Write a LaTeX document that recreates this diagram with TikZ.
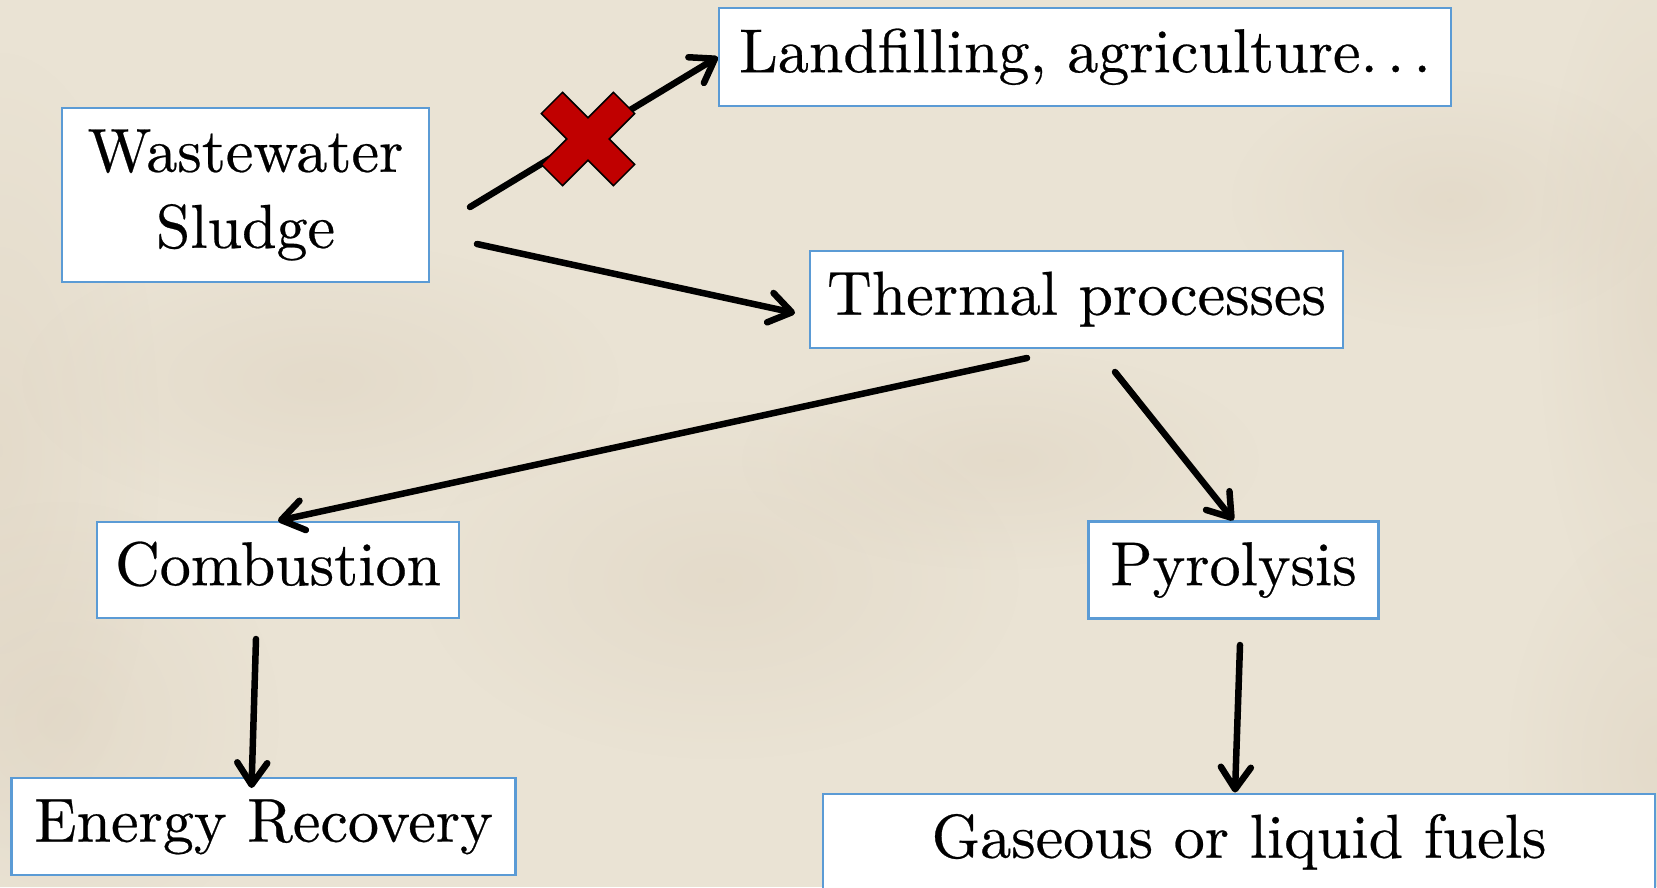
\documentclass[tikz,border=0pt]{standalone}
\usepackage{fontspec}
\setmainfont{lmroman10-regular.otf}[FakeBold=0.4]
\usetikzlibrary{arrows.meta,fadings}
\tikzfading[name=softblob, inner color=transparent!40, outer color=transparent!100]
\definecolor{paper}{RGB}{234,227,212}
\definecolor{paperdark}{RGB}{205,188,166}
\definecolor{boxblue}{RGB}{91,155,213}
\definecolor{xred}{RGB}{192,0,0}
\begin{document}
\begin{tikzpicture}[x=1pt,y=-1pt,
  box/.style={draw=boxblue,line width=2.5pt,fill=white,inner sep=0pt,align=center,
    font=\fontsize{62}{76}\selectfont},
  flow/.style={line width=6.5pt,line cap=round,-{Straight Barb[length=22pt,width=30pt,round]}},
  blot/.style={fill=paperdark,path fading=softblob,opacity=0.35}]
\useasboundingbox (0,0) rectangle (1657,887);
\clip (0,0) rectangle (1657,887);
\fill[paper] (0,0) rectangle (1657,887);
\fill[blot] (0,450) ellipse (160 and 400);
\fill[blot] (60,720) ellipse (220 and 220);
\fill[blot] (1657,300) ellipse (120 and 360);
\fill[blot] (1657,760) ellipse (150 and 240);
\fill[blot] (320,380) ellipse (300 and 140);
\fill[blot] (720,580) ellipse (300 and 180);
\fill[blot] (1450,200) ellipse (220 and 130);
\fill[blot] (1000,460) ellipse (260 and 110);

\node[box,minimum width=367pt,minimum height=174pt] (W) at (245.5,195) {Wastewater\\Sludge};
\node[box,minimum width=732pt,minimum height=98pt] (L) at (1085,57) {\strut Landfilling, agriculture.\kern0.15em.\kern0.15em.};
\node[box,minimum width=533pt,minimum height=97pt] (T) at (1076.5,299.5) {\strut Thermal processes};
\node[box,minimum width=362pt,minimum height=96pt] (C) at (278,570) {\strut Combustion};
\node[box,minimum width=290pt,minimum height=97pt] (P) at (1233.5,570) {\strut Pyrolysis};
\node[box,minimum width=504pt,minimum height=97pt] (E) at (263.6,826.4) {\strut Energy Recovery};
\node[box,minimum width=832pt,minimum height=97pt] (G) at (1239,842.5) {\strut Gaseous or liquid fuels};

\coordinate (wl) at (470,207);
\coordinate (wt) at (477,244);
\coordinate (tin) at (795,313);
\coordinate (tc) at (1027,358);
\coordinate (tp) at (1115,372);
\coordinate (ce) at (256,639);
\coordinate (ein) at (251.5,788);
\coordinate (pg) at (1240,645);
\coordinate (gin) at (1235,792.5);

\draw[flow] (wl) -- (L.west);
\draw[flow] (wt) -- (tin);
\draw[flow] (tc) -- (C.north);
\draw[flow] (tp) -- (P.north);
\draw[flow] (ce) -- (ein);
\draw[flow] (pg) -- (gin);

\draw[fill=xred,line width=1.5pt,line join=miter,shift={(588,139)},rotate=45]
  (15,15) -- (51,15) -- (51,-15) -- (15,-15) -- (15,-51) -- (-15,-51) -- (-15,-15)
  -- (-51,-15) -- (-51,15) -- (-15,15) -- (-15,51) -- (15,51) -- cycle;
\end{tikzpicture}
\end{document}
